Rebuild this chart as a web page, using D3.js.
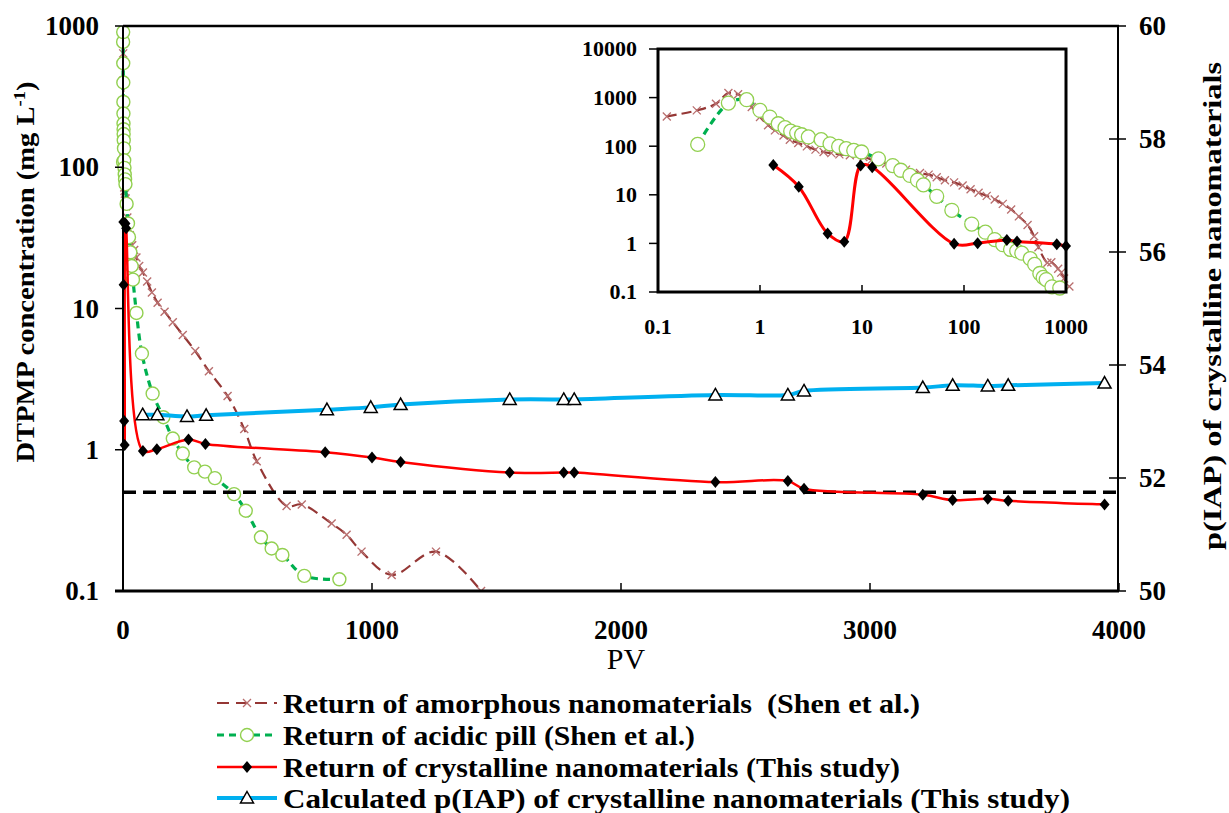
<!DOCTYPE html>
<html>
<head>
<meta charset="utf-8">
<script src="https://cdn.jsdelivr.net/npm/d3@7"></script>
<style>
  html, body { margin: 0; padding: 0; background: #fff; }
  svg { display: block; }
  .ser { font-family: "Liberation Serif", "Times New Roman", Times, serif; }
</style>
</head>
<body>
<svg id="chart" width="1229" height="813"></svg>
<script>
// ---------------- DATA ----------------
const amorphPV = [0.122, 0.24, 0.37, 0.49, 0.61, 0.83, 1.0, 1.2, 1.4, 1.7, 1.96, 2.37, 2.88, 3.5, 4.2, 5.0, 6.0, 7.6, 10.3, 12.5, 17.3, 21, 27, 37, 45, 54, 65, 80, 97, 116, 139, 167, 200, 240, 290, 345, 420, 487, 537, 657, 718, 838, 898, 958, 1079, 1257, 1438];
const amorphC  = [410, 545, 750, 1240, 1170, 640, 400, 270, 212, 166, 136, 116, 99, 85, 76, 72, 68, 65, 60, 53, 44, 37, 33, 28, 26, 23, 20, 18, 15.5, 13, 11, 9.5, 8, 6.5, 5, 3.6, 2.4, 1.4, 0.83, 0.40, 0.41, 0.30, 0.25, 0.19, 0.13, 0.19, 0.10];
const acidPV = [0.245, 0.49, 0.74, 1.0, 1.25, 1.51, 1.76, 2.0, 2.29, 2.56, 2.98, 3.98, 4.86, 5.9, 7.0, 8.3, 9.9, 14.5, 20, 24, 29.5, 35, 40, 54, 76, 119, 162, 200, 240, 286, 329, 369, 446, 493, 554, 597, 640, 728, 869];
const acidC  = [109, 771, 906, 545, 398, 290, 240, 204, 186, 172, 155, 136, 112, 99, 89, 82, 76, 55, 40, 32, 25, 20, 16, 9.3, 4.8, 2.5, 1.7, 1.2, 0.94, 0.75, 0.70, 0.63, 0.485, 0.37, 0.24, 0.20, 0.18, 0.128, 0.121];
const crystPV = [1.35, 2.4, 4.6, 6.7, 9.7, 12.6, 80, 136, 263, 331, 812, 1000, 1115, 1553, 1770, 1812, 2379, 2670, 2735, 3212, 3332, 3473, 3555, 3942];
const crystC  = [41, 14.7, 1.6, 1.08, 40, 37, 0.98, 1.01, 1.18, 1.1, 0.96, 0.88, 0.82, 0.69, 0.69, 0.69, 0.59, 0.60, 0.53, 0.48, 0.44, 0.45, 0.435, 0.41];
const iapPV = [79, 138, 257, 334, 819, 995, 1115, 1553, 1770, 1812, 2379, 2670, 2735, 3212, 3332, 3473, 3555, 3942];
const iapP  = [53.12, 53.12, 53.09, 53.11, 53.21, 53.25, 53.30, 53.39, 53.39, 53.39, 53.47, 53.47, 53.54, 53.60, 53.64, 53.63, 53.64, 53.68];
const thresholdC = 0.5;

const xTicks = [0, 1000, 2000, 3000, 4000];
const yTicks = [0.1, 1, 10, 100, 1000];
const yTickLabels = ["0.1", "1", "10", "100", "1000"];
const yRTicks = [50, 52, 54, 56, 58, 60];
const insetXTicks = [0.1, 1, 10, 100, 1000];
const insetXLabels = ["0.1", "1", "10", "100", "1000"];
const insetYTicks = [0.1, 1, 10, 100, 1000, 10000];
const insetYLabels = ["0.1", "1", "10", "100", "1000", "10000"];

const legendLabels = [
  "Return of amorphous nanomaterials  (Shen et al.)",
  "Return of acidic pill (Shen et al.)",
  "Return of crystalline nanomaterials (This study)",
  "Calculated p(IAP) of crystalline nanomaterials (This study)"
];

const C_AM_LINE = "#953735", C_AM_MK = "#b86e6e";
const C_AC_LINE = "#00b050", C_AC_MK = "#92d050";
const C_CR = "#ff0000";
const C_IAP = "#00b0f0";

const svg = d3.select("#chart");
const zip = (a, b) => a.map((v, i) => [v, b[i]]);
const amorph = zip(amorphPV, amorphC);
const acid = zip(acidPV, acidC);
const cryst = zip(crystPV, crystC);
const iap = zip(iapPV, iapP);

function txt(g, size, bold) {
  return g.append("text").attr("class", "ser")
    .attr("font-family", "Liberation Serif")
    .style("font-family", `"Liberation Serif"`)
    .attr("font-size", size).attr("font-weight", bold ? "bold" : "normal");
}

const L = 123, R = 1119, T = 26, B = 591;
const x = d3.scaleLinear().domain([0, 4000]).range([L, R]);
const y = d3.scaleLog().domain([0.1, 1000]).range([B, T]);
const yR = d3.scaleLinear().domain([50, 60]).range([B, T]);

const curve = d3.curveCatmullRom.alpha(0.5);
const markX = "M-4,-4L4,4M-4,4L4,-4";
const markDiamond = "M0,-6L5,0L0,6L-5,0Z";
const markTri = "M0,-6.5L6.5,5L-6.5,5Z";

svg.append("defs").append("clipPath").attr("id", "mainClip")
  .append("rect").attr("x", L - 8).attr("y", T).attr("width", R - L + 16).attr("height", B - T + 1);

const main = svg.append("g").attr("clip-path", "url(#mainClip)");

main.append("path").datum(amorph)
  .attr("d", d3.line().x(d => x(d[0])).y(d => y(d[1])).curve(curve))
  .attr("fill", "none").attr("stroke", C_AM_LINE).attr("stroke-width", 2.2).attr("stroke-dasharray", "11,6");
main.append("g").selectAll("path").data(amorph).join("path")
  .attr("transform", d => `translate(${x(d[0])},${y(d[1])})`)
  .attr("d", markX).attr("stroke", C_AM_MK).attr("stroke-width", 1.4).attr("fill", "none");

main.append("path").datum(acid)
  .attr("d", d3.line().x(d => x(d[0])).y(d => y(d[1])).curve(curve))
  .attr("fill", "none").attr("stroke", C_AC_LINE).attr("stroke-width", 3.2).attr("stroke-dasharray", "7,5");
main.append("g").selectAll("circle").data(acid).join("circle")
  .attr("cx", d => x(d[0])).attr("cy", d => y(d[1])).attr("r", 6.5)
  .attr("fill", "#fff").attr("stroke", C_AC_MK).attr("stroke-width", 1.4);

main.append("line")
  .attr("x1", x(0)).attr("x2", x(4000)).attr("y1", y(thresholdC)).attr("y2", y(thresholdC))
  .attr("stroke", "#000").attr("stroke-width", 3.5).attr("stroke-dasharray", "13,7");

main.append("path").datum(cryst)
  .attr("d", d3.line().x(d => x(d[0])).y(d => y(d[1])).curve(curve))
  .attr("fill", "none").attr("stroke", C_CR).attr("stroke-width", 2.5);
main.append("g").selectAll("path").data(cryst).join("path")
  .attr("transform", d => `translate(${x(d[0])},${y(d[1])})`)
  .attr("d", markDiamond).attr("fill", "#000");

main.append("path").datum(iap)
  .attr("d", d3.line().x(d => x(d[0])).y(d => yR(d[1])).curve(curve))
  .attr("fill", "none").attr("stroke", C_IAP).attr("stroke-width", 4);
main.append("g").selectAll("path").data(iap).join("path")
  .attr("transform", d => `translate(${x(d[0])},${yR(d[1])})`)
  .attr("d", markTri).attr("fill", "#fff").attr("stroke", "#000").attr("stroke-width", 1.5);

const ax = svg.append("g");
ax.append("line").attr("x1", L).attr("x2", R).attr("y1", T).attr("y2", T).attr("stroke", "#000").attr("stroke-width", 2.5);
ax.append("line").attr("x1", L).attr("x2", L).attr("y1", T).attr("y2", B).attr("stroke", "#000").attr("stroke-width", 2);
ax.append("line").attr("x1", R - 1).attr("x2", R - 1).attr("y1", T).attr("y2", B).attr("stroke", "#000").attr("stroke-width", 2);
ax.append("line").attr("x1", L - 8).attr("x2", R).attr("y1", B).attr("y2", B).attr("stroke", "#000").attr("stroke-width", 3);

yTicks.forEach((t, i) => {
  ax.append("line").attr("x1", L - 8).attr("x2", L).attr("y1", y(t)).attr("y2", y(t)).attr("stroke", "#000").attr("stroke-width", 1.5);
  txt(ax, 27, true).attr("x", 99).attr("y", y(t)).attr("dy", "0.34em").attr("text-anchor", "end").text(yTickLabels[i]);
});
yRTicks.forEach(t => {
  ax.append("line").attr("x1", R - 10).attr("x2", R + 7).attr("y1", yR(t)).attr("y2", yR(t)).attr("stroke", "#000").attr("stroke-width", 1.5);
  txt(ax, 27, true).attr("x", 1139).attr("y", yR(t)).attr("dy", "0.34em").attr("text-anchor", "start").text(t);
});
xTicks.forEach(t => {
  ax.append("line").attr("x1", x(t)).attr("x2", x(t)).attr("y1", B - 8).attr("y2", B).attr("stroke", "#000").attr("stroke-width", 1.5);
  txt(ax, 27, true).attr("x", x(t)).attr("y", 639).attr("text-anchor", "middle").text(t);
});

txt(ax, 30, false).attr("x", 626).attr("y", 669).attr("text-anchor", "middle").text("PV");

const lt = txt(ax, 26, true).attr("transform", "translate(34,272) rotate(-90)")
  .attr("text-anchor", "middle").attr("textLength", 381).attr("lengthAdjust", "spacingAndGlyphs");
lt.append("tspan").text("DTPMP concentration (mg L");
lt.append("tspan").attr("font-size", 17).attr("dy", -9).text("-1");
lt.append("tspan").attr("dy", 9).text(")");

txt(ax, 26, true).attr("transform", "translate(1221,306) rotate(-90)")
  .attr("text-anchor", "middle").attr("textLength", 488).attr("lengthAdjust", "spacingAndGlyphs")
  .text("p(IAP) of crystalline nanomaterials");

const iL = 658, iR = 1066, iT = 49, iB = 292;
const ix = d3.scaleLog().domain([0.1, 1000]).range([iL, iR]);
const iy = d3.scaleLog().domain([0.1, 10000]).range([iB, iT]);
const inset = svg.append("g");
inset.append("rect").attr("x", iL).attr("y", iT).attr("width", iR - iL).attr("height", iB - iT).attr("fill", "#fff");

const inRange = d => d[0] >= 0.1 && d[0] <= 1100;
const amI = amorph.filter(inRange), acI = acid.filter(inRange), crI = cryst.filter(inRange);

inset.append("path").datum(amI)
  .attr("d", d3.line().x(d => ix(d[0])).y(d => iy(d[1])).curve(curve))
  .attr("fill", "none").attr("stroke", C_AM_LINE).attr("stroke-width", 2.2).attr("stroke-dasharray", "10,5");
inset.append("g").selectAll("path").data(amI).join("path")
  .attr("transform", d => `translate(${ix(d[0])},${iy(d[1])})`)
  .attr("d", markX).attr("stroke", C_AM_MK).attr("stroke-width", 1.3).attr("fill", "none");

inset.append("path").datum(acI)
  .attr("d", d3.line().x(d => ix(d[0])).y(d => iy(d[1])).curve(curve))
  .attr("fill", "none").attr("stroke", C_AC_LINE).attr("stroke-width", 3.2).attr("stroke-dasharray", "7,5");
inset.append("g").selectAll("circle").data(acI).join("circle")
  .attr("cx", d => ix(d[0])).attr("cy", d => iy(d[1])).attr("r", 7)
  .attr("fill", "#fff").attr("stroke", C_AC_MK).attr("stroke-width", 1.3);

inset.append("path").datum(crI)
  .attr("d", d3.line().x(d => ix(d[0])).y(d => iy(d[1])).curve(curve))
  .attr("fill", "none").attr("stroke", C_CR).attr("stroke-width", 3);
inset.append("g").selectAll("path").data(crI).join("path")
  .attr("transform", d => `translate(${ix(d[0])},${iy(d[1])})`)
  .attr("d", markDiamond).attr("fill", "#000");

inset.append("rect").attr("x", iL).attr("y", iT).attr("width", iR - iL).attr("height", iB - iT)
  .attr("fill", "none").attr("stroke", "#000").attr("stroke-width", 3);

insetYTicks.forEach((t, i) => {
  inset.append("line").attr("x1", iL - 9).attr("x2", iL).attr("y1", iy(t)).attr("y2", iy(t)).attr("stroke", "#000").attr("stroke-width", 1.5);
  txt(inset, 22, true).attr("x", 637).attr("y", iy(t)).attr("dy", "0.34em").attr("text-anchor", "end").text(insetYLabels[i]);
});
insetXTicks.forEach((t, i) => {
  inset.append("line").attr("x1", ix(t)).attr("x2", ix(t)).attr("y1", iB - 7).attr("y2", iB).attr("stroke", "#000").attr("stroke-width", 1.5);
  txt(inset, 22, true).attr("x", ix(t)).attr("y", 334).attr("text-anchor", "middle").text(insetXLabels[i]);
});

const lg = svg.append("g");
const rowY = [703, 735, 767, 798];
const legendW = [637, 412, 617, 787];
const symX0 = 217, symX1 = 277, symXm = 247, textX = 283;
lg.append("line").attr("x1", symX0).attr("x2", symX1).attr("y1", rowY[0]).attr("y2", rowY[0])
  .attr("stroke", C_AM_LINE).attr("stroke-width", 2).attr("stroke-dasharray", "12,7");
lg.append("path").attr("transform", `translate(${symXm},${rowY[0]})`).attr("d", markX)
  .attr("stroke", C_AM_MK).attr("stroke-width", 1.3).attr("fill", "none");
lg.append("line").attr("x1", symX0).attr("x2", symX1).attr("y1", rowY[1]).attr("y2", rowY[1])
  .attr("stroke", C_AC_LINE).attr("stroke-width", 3).attr("stroke-dasharray", "7,5");
lg.append("circle").attr("cx", symXm).attr("cy", rowY[1]).attr("r", 6.5)
  .attr("fill", "#fff").attr("stroke", C_AC_MK).attr("stroke-width", 1.4);
lg.append("line").attr("x1", symX0).attr("x2", symX1).attr("y1", rowY[2]).attr("y2", rowY[2])
  .attr("stroke", C_CR).attr("stroke-width", 2.5);
lg.append("path").attr("transform", `translate(${symXm},${rowY[2]})`).attr("d", markDiamond).attr("fill", "#000");
lg.append("line").attr("x1", symX0).attr("x2", symX1).attr("y1", rowY[3]).attr("y2", rowY[3])
  .attr("stroke", C_IAP).attr("stroke-width", 4);
lg.append("path").attr("transform", `translate(${symXm},${rowY[3]})`).attr("d", markTri)
  .attr("fill", "#fff").attr("stroke", "#000").attr("stroke-width", 1.5);

legendLabels.forEach((s, i) => {
  txt(lg, 28, true).attr("x", textX).attr("y", rowY[i]).attr("dy", "0.34em")
    .attr("textLength", legendW[i]).attr("lengthAdjust", "spacingAndGlyphs")
    .attr("xml:space", "preserve").text(s);
});
</script>
</body>
</html>
